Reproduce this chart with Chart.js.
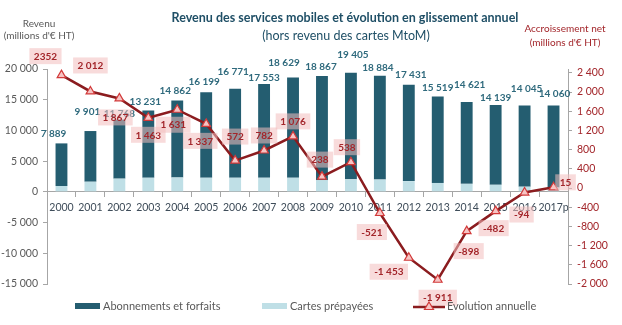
<!DOCTYPE html>
<html>
<head>
<meta charset="utf-8">
<script src="https://cdn.jsdelivr.net/npm/chart.js@4.4.1/dist/chart.umd.min.js"></script>
<style>
  html, body { margin: 0; padding: 0; background: #fff; }
  #wrap { width: 622px; height: 325px; }
</style>
</head>
<body>
<div id="wrap"><canvas id="revenu"></canvas></div>
<script>
var years = ['2000', '2001', '2002', '2003', '2004', '2005', '2006', '2007', '2008',
             '2009', '2010', '2011', '2012', '2013', '2014', '2015', '2016', '2017p'];

// total mobile revenue (millions EUR HT), printed above each bar
var totalRevenue = [7889, 9901, 11768, 13231, 14862, 16199, 16771, 17553, 18629,
                    18867, 19405, 18884, 17431, 15519, 14621, 14139, 14045, 14060];

// prepaid cards share of it
var prepaid = [950, 1650, 2150, 2300, 2350, 2300, 2300, 2300, 2300,
               1900, 2050, 2000, 1750, 1450, 1300, 1150, 850, 700];

// year-on-year net change (right axis)
var netChange = [2352, 2012, 1867, 1463, 1631, 1337, 572, 782, 1076,
                 238, 538, -521, -1453, -1911, -898, -482, -94, 15];

var leftTicks = [-15000, -10000, -5000, 0, 5000, 10000, 15000, 20000];
var rightTicks = [-2000, -1600, -1200, -800, -400, 0, 400, 800, 1200, 1600, 2000, 2400];

var subscriptions = totalRevenue.map(function(t, i) { return t - prepaid[i]; });

// label nudges (px) so the boxes don't pile on each other
var totalNudge = [[-8, -10], [-3, -19], [0, -6], [-3, -9], [-2, -10], [-2, -11], [-2, -17], [0, -6], [-9, -15],
                  [-1, -9], [2, -18], [-2, -8], [2, -10], [0, -9], [3, -17], [0, -7], [2, -17], [1, -12]];
var changeNudge = [[-16, -19], [0, -26], [-4, 19], [0, 17], [-4, 15], [-6, 17], [0, -24], [0, -15], [0, -15],
                   [-2, -17], [-4, -15], [-8, 19], [-20, 14], [0, 18], [2, 20], [-2, 17], [-3, 22], [12, -5]];

var FONT = 'Lato, "Open Sans", sans-serif';
var TEAL = '#245d70';
var LIGHT = '#bfdfe6';
var MAROON = '#8b1c1f';
var RED_TXT = '#a3262b';
var GREY = '#595959';

var fmt = function(v) {
    var s = String(Math.abs(Math.round(v))).replace(/\B(?=(\d{3})+(?!\d))/g, ' ');
    return (v < 0 ? '-' : '') + s;
};

var decorations = {
    id: 'decorations',
    afterDatasetsDraw: function(chart) {
        var ctx = chart.ctx;
        var x = chart.scales.x, y = chart.scales.y;
        ctx.save();

        // totals above the stacked bars
        ctx.font = 'bold 10px ' + FONT;
        ctx.fillStyle = '#2f6a7d';
        ctx.textAlign = 'center';
        ctx.textBaseline = 'middle';
        totalRevenue.forEach(function(v, i) {
            var px = x.getPixelForValue(i) + totalNudge[i][0];
            var py = y.getPixelForValue(v) + totalNudge[i][1];
            ctx.fillText(fmt(v), px, py);
        });

        // net change boxes
        var pts = chart.getDatasetMeta(2).data;
        ctx.font = 'bold 10px ' + FONT;
        netChange.forEach(function(v, i) {
            // the 2000 figure is printed without a thousands gap
            var txt = i === 0 ? String(v) : fmt(v);
            var cx = pts[i].x + changeNudge[i][0];
            var cy = pts[i].y + changeNudge[i][1];
            var w = ctx.measureText(txt).width + 9;
            ctx.fillStyle = 'rgba(242, 190, 190, 0.55)';
            ctx.fillRect(cx - w / 2, cy - 8, w, 16);
            ctx.fillStyle = RED_TXT;
            ctx.fillText(txt, cx, cy + 0.5);
        });
        ctx.restore();
    },
    afterDraw: function(chart) {
        var ctx = chart.ctx;
        ctx.save();
        ctx.textAlign = 'center';
        ctx.textBaseline = 'middle';

        ctx.fillStyle = '#1f4f66';
        ctx.font = 'bold 12.5px ' + FONT;
        ctx.fillText('Revenu des services mobiles et évolution en glissement annuel', 345, 18);
        ctx.font = '12.5px ' + FONT;
        ctx.fillText('(hors revenu des cartes MtoM)', 346, 36);

        ctx.font = '10px ' + FONT;
        ctx.fillStyle = GREY;
        ctx.fillText('Revenu', 39, 24);
        ctx.fillText("(millions d'€ HT)", 39, 36);
        ctx.fillStyle = RED_TXT;
        ctx.fillText('Accroissement net', 565, 29);
        ctx.fillText("(millions d'€ HT)", 565, 43);

        // legend
        ctx.textAlign = 'left';
        ctx.font = '11px ' + FONT;
        ctx.fillStyle = TEAL;
        ctx.fillRect(75, 303, 25, 6);
        ctx.fillStyle = LIGHT;
        ctx.fillRect(262, 303, 25, 6);
        ctx.strokeStyle = MAROON;
        ctx.lineWidth = 2.5;
        ctx.beginPath();
        ctx.moveTo(413, 307);
        ctx.lineTo(445, 307);
        ctx.stroke();
        ctx.beginPath();
        ctx.moveTo(429, 302);
        ctx.lineTo(433.5, 309.5);
        ctx.lineTo(424.5, 309.5);
        ctx.closePath();
        ctx.fillStyle = '#f6c4c4';
        ctx.fill();
        ctx.strokeStyle = '#d23a3a';
        ctx.lineWidth = 1.2;
        ctx.stroke();
        ctx.fillStyle = GREY;
        ctx.fillText('Abonnements et forfaits', 103, 306);
        ctx.fillText('Cartes prépayées', 290, 306);
        ctx.fillText('Evolution annuelle', 447, 306);
        ctx.restore();
    }
};

window.onload = function() {
    var ctx = document.getElementById('revenu').getContext('2d');
    window.myChart = new Chart(ctx, {
        type: 'bar',
        data: {
            labels: years,
            datasets: [{
                label: 'Cartes prépayées',
                data: prepaid,
                backgroundColor: LIGHT,
                stack: 'rev',
                order: 1
            }, {
                label: 'Abonnements et forfaits',
                data: subscriptions,
                backgroundColor: TEAL,
                stack: 'rev',
                order: 1
            }, {
                type: 'line',
                label: 'Evolution annuelle',
                data: netChange,
                yAxisID: 'y1',
                borderColor: MAROON,
                borderWidth: 2.5,
                pointStyle: 'triangle',
                pointRadius: 5,
                pointBackgroundColor: '#f6c4c4',
                pointBorderColor: '#d23a3a',
                pointBorderWidth: 1.2,
                tension: 0,
                order: 0
            }]
        },
        options: {
            responsive: true,
            maintainAspectRatio: false,
            animation: false,
            layout: { padding: { top: 69, bottom: 41, left: 0, right: 0 } },
            plugins: {
                legend: { display: false },
                tooltip: { enabled: false }
            },
            datasets: {
                bar: { barPercentage: 0.41, categoryPercentage: 1 }
            },
            scales: {
                x: {
                    stacked: true,
                    position: { y: 0 },
                    grid: { drawOnChartArea: false, drawTicks: true, tickLength: 5, color: '#a6a6a6', offset: true },
                    border: { color: '#a6a6a6' },
                    ticks: { color: '#3e4c59', font: { family: FONT, size: 10.5 }, padding: 4, maxRotation: 0, autoSkip: false }
                },
                y: {
                    stacked: true,
                    position: 'left',
                    min: leftTicks[0],
                    max: leftTicks[leftTicks.length - 1],
                    afterBuildTicks: function(s) { s.ticks = leftTicks.map(function(v) { return { value: v }; }); },
                    afterFit: function(s) { s.width = 47; },
                    grid: { drawOnChartArea: false, tickLength: 4, color: '#a6a6a6' },
                    border: { color: '#a6a6a6' },
                    ticks: { color: GREY, font: { family: FONT, size: 10.5 }, padding: 5, callback: function(v) { return fmt(v); } }
                },
                y1: {
                    position: 'right',
                    min: -2000,
                    max: 2480,
                    afterBuildTicks: function(s) { s.ticks = rightTicks.map(function(v) { return { value: v }; }); },
                    afterFit: function(s) { s.width = 54; },
                    grid: { drawOnChartArea: false, tickLength: 4, color: '#a6a6a6' },
                    border: { color: '#a6a6a6' },
                    ticks: { color: RED_TXT, font: { family: FONT, size: 10.5 }, padding: 5, callback: function(v) { return fmt(v); } }
                }
            }
        },
        plugins: [decorations]
    });
};
</script>
</body>
</html>
